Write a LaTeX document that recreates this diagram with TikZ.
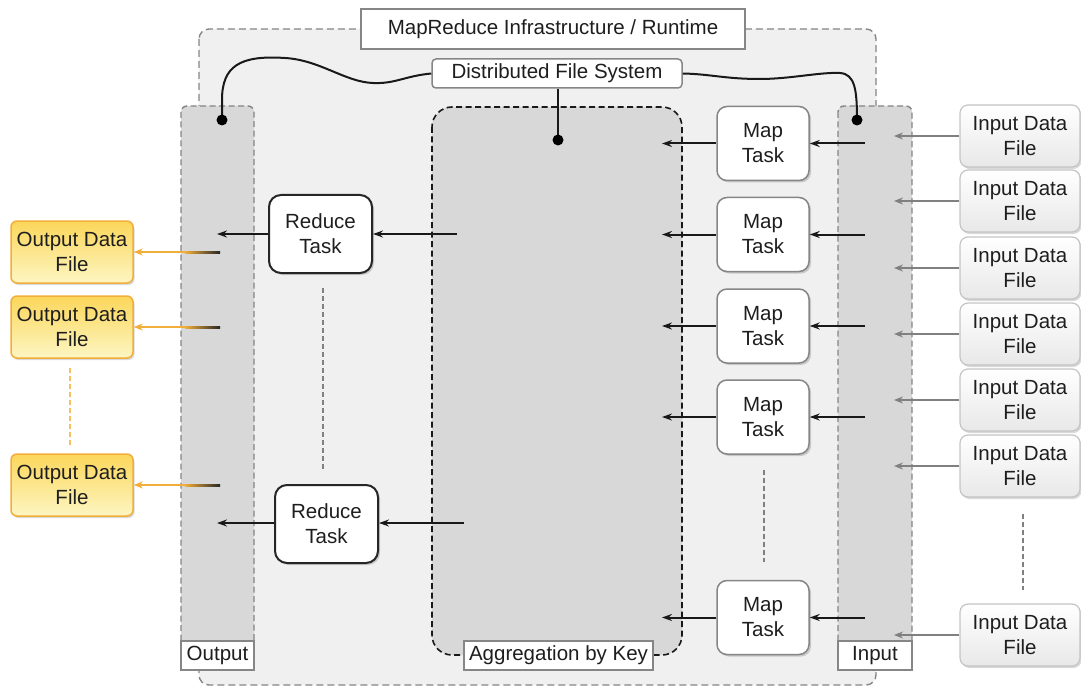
\documentclass[tikz,border=0pt]{standalone}
\usepackage{fontspec}
\setmainfont{Liberation Sans}
\usetikzlibrary{shadows,arrows.meta}
\definecolor{outerfill}{HTML}{EFF0EF}
\definecolor{colfill}{HTML}{D8D8D8}
\definecolor{dashgray}{HTML}{858585}
\definecolor{boxgray}{HTML}{868686}
\definecolor{infile}{HTML}{C4C4C4}
\definecolor{outtop}{HTML}{FBD65A}
\definecolor{outbot}{HTML}{FDF6C2}
\definecolor{outborder}{HTML}{F2AE3A}
\definecolor{txt}{HTML}{1E1E1E}
\begin{document}
\begin{tikzpicture}[x=1pt,y=-1pt,
  every node/.style={font=\fontsize{20.5}{25}\selectfont, text=txt, align=center, inner sep=0pt},
  labelbox/.style={draw=boxgray, fill=white, line width=1.2pt, minimum height=29pt},
  mapbox/.style={draw=boxgray, fill=white, rounded corners=10pt, line width=1.5pt, minimum width=92pt, minimum height=74pt, drop shadow={shadow xshift=2pt, shadow yshift=-2pt, opacity=0.35}},
  redbox/.style={draw=black!85, fill=white, rounded corners=12pt, line width=2pt, minimum width=103pt, minimum height=78pt, drop shadow={shadow xshift=2pt, shadow yshift=-2pt, opacity=0.35}},
  infilebox/.style={draw=infile, top color=white, bottom color=black!9, rounded corners=8pt, line width=1.2pt, minimum width=120pt, minimum height=62pt, drop shadow={shadow xshift=1.5pt, shadow yshift=-2pt, opacity=0.3}},
  outfilebox/.style={draw=outborder, top color=outtop, bottom color=outbot, rounded corners=6pt, line width=1.5pt, minimum width=122pt, minimum height=62pt, drop shadow={shadow xshift=1.5pt, shadow yshift=-2pt, opacity=0.3}},
  colbox/.style={draw=dashgray, fill=colfill, dash pattern=on 6pt off 3.5pt, line width=1.4pt, rounded corners=6pt},
  blk/.style={-{Stealth[length=10pt,width=7pt]}, line width=2pt, black!90},
  gryarr/.style={-{Stealth[length=9pt,width=7pt]}, line width=1.4pt, black!50},
  orarr/.style={-{Stealth[length=9pt,width=7pt]}, line width=1.6pt, outborder},
  vdots/.style={dash pattern=on 5pt off 3pt, line width=1.3pt, black!50},
]
\useasboundingbox (0,0) rectangle (1081,687);
% outer runtime region
\draw[draw=dashgray, fill=outerfill, dash pattern=on 7pt off 4pt, line width=1.4pt, rounded corners=10pt] (199,29) rectangle (876,685);
\node[draw=boxgray, fill=white, line width=1.5pt, minimum width=384pt, minimum height=40pt] (title) at (553,29) {MapReduce Infrastructure / Runtime};
\node[draw=boxgray, fill=white, line width=1.5pt, rounded corners=4pt, minimum width=250pt, minimum height=29pt] (dfs) at (557,73.5) {Distributed File System};

% columns
\draw[colbox] (181,106) rectangle (254,670);
\draw[colbox] (838,106) rectangle (912,670);
\draw[draw=black!90, fill=colfill, dash pattern=on 6pt off 3.5pt, line width=1.6pt, rounded corners=20pt] (432,107) rectangle (682,655);

\node[labelbox, minimum width=73pt] (outlbl) at (217.5,655.5) {Output};
\node[labelbox, minimum width=74pt] (inlbl) at (875,655.5) {Input};
\node[labelbox, minimum width=189pt] (agglbl) at (558.5,655.5) {Aggregation by Key};

% dfs connectors
\coordinate (dotL) at (222,120);
\coordinate (dotR) at (857,120);
\coordinate (dotM) at (558,140);
\draw[line width=2pt, black!90] (dfs.west) .. controls (405,76) and (395,84) .. (373,83) .. controls (345,82) and (320,60) .. (285,58) .. controls (240,55) and (222,66) .. (222,100) -- (dotL);
\draw[line width=2pt, black!90] (dfs.east) .. controls (710,74) and (725,79) .. (760,79) .. controls (790,79) and (820,72) .. (840,73) .. controls (855,74) and (857,90) .. (dotR);
\draw[line width=2pt, black!90] (dfs.south -| dotM) -- (dotM);
\fill[black] (dotL) circle (5.5pt) (dotR) circle (5.5pt) (dotM) circle (5.5pt);

% map tasks
\foreach \i/\y in {1/143.5,2/234.5,3/326,4/417,5/617.5}{
  \node[mapbox] (map\i) at (763,\y) {Map\\Task};
  \coordinate (mi\i) at (865,\y);
  \coordinate (mo\i) at (662,\y);
  \draw[blk] (mi\i) -- (map\i.east);
  \draw[blk] (map\i.west) -- (mo\i);
}
\draw[vdots] (764,470) -- (764,562);

% input files
\foreach \i/\y in {1/136,2/201,3/268,4/334,5/400,6/466,7/635}{
  \node[infilebox] (in\i) at (1020,\y) {Input Data\\File};
  \coordinate (ia\i) at (894,\y);
  \draw[gryarr] (in\i.west) -- (ia\i);
}
\draw[vdots] (1023,514) -- (1023,590);

% reduce tasks
\node[redbox] (red1) at (320.5,234) {Reduce\\Task};
\node[redbox] (red2) at (326.5,524) {Reduce\\Task};
\coordinate (ri1) at (457,234);
\coordinate (ro1) at (217,234);
\coordinate (ri2) at (464,523);
\coordinate (ro2) at (217,523);
\draw[blk] (ri1) -- (red1.east);
\draw[blk] (red1.west) -- (ro1);
\draw[blk] (ri2) -- (red2.east |- ri2);
\draw[blk] (red2.west |- ro2) -- (ro2);
\draw[vdots] (323,288) -- (323,470);

% output files
\foreach \i/\y in {1/252,2/327,3/485}{
  \node[outfilebox] (out\i) at (72,\y) {Output Data\\File};
  \coordinate (oa\i) at (220,\y);
  \draw[orarr] (oa\i) -- (out\i.east);
  \shade[left color=outborder, right color=black!85] (185,\y-1) rectangle (220,\y+1);
}
\draw[draw=outborder!80, dash pattern=on 5pt off 3pt, line width=1.3pt] (70,368) -- (70,445);
\end{tikzpicture}
\end{document}
